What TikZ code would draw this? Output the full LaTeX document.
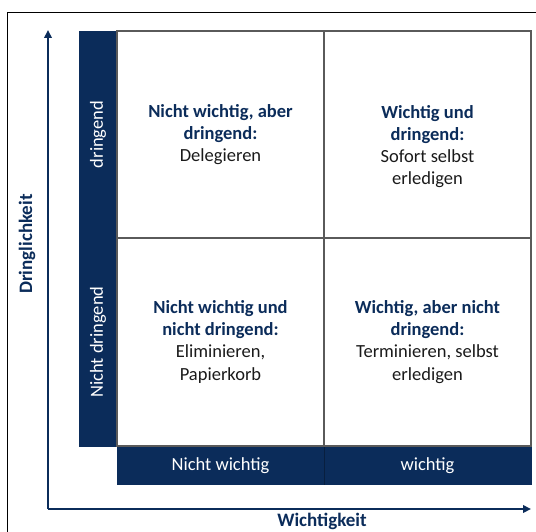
\documentclass[tikz,border=0pt]{standalone}
\usepackage{fontspec}
\setmainfont{Carlito}
\usetikzlibrary{arrows.meta}
\definecolor{navy}{HTML}{0B2C5A}
\definecolor{gridgray}{HTML}{5A5A5A}
\definecolor{bodytext}{HTML}{1A1A1A}
\begin{document}
\begin{tikzpicture}[x=1pt,y=-1pt,
  bar/.style={fill=navy,draw=none},
  barlabel/.style={text=white,font=\fontsize{18.5}{22}\selectfont},
  axislabel/.style={text=navy,font=\bfseries\fontsize{19}{22}\selectfont},
  quad/.style={align=center,anchor=base,inner sep=0pt,
    font=\fontsize{18.5}{22.3}\selectfont,text=bodytext},
  axis/.style={draw=navy,line width=2pt,rounded corners=2pt,
    -{Triangle[length=8pt,width=7.5pt]}}]
\useasboundingbox (0,0) rectangle (536,532);
% frame, only its top and left edges fall on the page
\draw[line width=1.4pt,black] (7.5,560) -- (7.5,12.5) -- (560,12.5);

% side bars
\fill[bar] (79,31) rectangle (117,447);
\fill[bar] (117,446) rectangle (532,485);
\draw[navy!70!black,line width=0.6pt] (324,446) -- (324,485);

% the four cells
\draw[gridgray,line width=1.2pt] (117,31) rectangle (531,446);
\draw[gridgray,line width=1.2pt] (324,31) -- (324,446);
\draw[gridgray,line width=1.2pt] (117,238) -- (531,238);

% axes
\coordinate (origin) at (48,509);
\coordinate (ytip) at (48,30);
\coordinate (xtip) at (531,509);
\draw[axis] (origin) -- (ytip);
\draw[axis] (origin) -- (xtip);

% bar labels
\node[barlabel,rotate=90] (dr) at (98,134.5) {dringend};
\node[barlabel,rotate=90] (ndr) at (98,342) {Nicht dringend};
\node[barlabel] (nw) at (220.5,465.5) {Nicht wichtig};
\node[barlabel] (w) at (427.5,465.5) {wichtig};

% axis labels
\node[axislabel,rotate=90] (ylab) at (27,244) {Dringlichkeit};
\node[axislabel] (xlab) at (322,521) {Wichtigkeit};

% quadrant texts (anchored at the baseline of their last line)
\node[quad] (q1) at (220.5,162) {{\color{navy}\bfseries Nicht wichtig, aber}\\{\color{navy}\bfseries dringend:}\\Delegieren};
\node[quad] (q2) at (427.5,185) {{\color{navy}\bfseries Wichtig und}\\{\color{navy}\bfseries dringend:}\\Sofort selbst\\erledigen};
\node[quad] (q3) at (220.5,380) {{\color{navy}\bfseries Nicht wichtig und}\\{\color{navy}\bfseries nicht dringend:}\\Eliminieren,\\Papierkorb};
\node[quad] (q4) at (427.5,380) {{\color{navy}\bfseries Wichtig, aber nicht}\\{\color{navy}\bfseries dringend:}\\Terminieren, selbst\\erledigen};
\end{tikzpicture}
\end{document}
